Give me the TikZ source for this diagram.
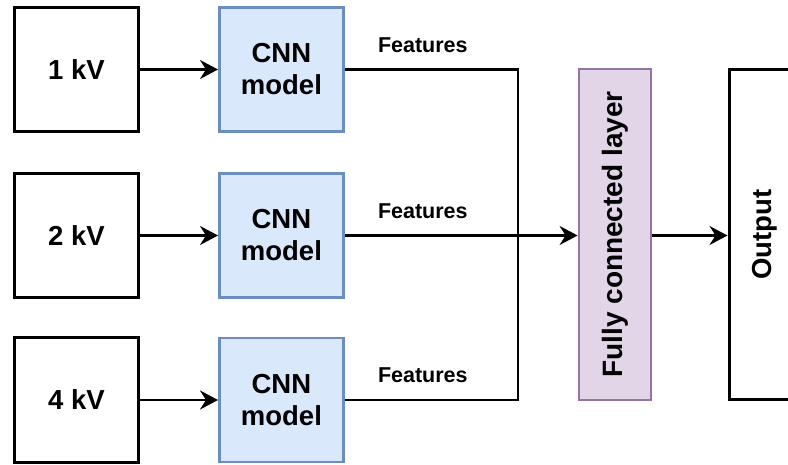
\documentclass[tikz,border=0pt]{standalone}
\usepackage{fontspec}
\setmainfont{Liberation Sans}
\usetikzlibrary{positioning, calc, arrows.meta}

\definecolor{cnnfill}{HTML}{DAE8FC}
\definecolor{cnnline}{HTML}{6C8EBF}
\definecolor{fcfill}{HTML}{E1D5E7}
\definecolor{fcline}{HTML}{9673A6}

\tikzset{
  inbox/.style={draw, line width=3pt, minimum width=124pt, minimum height=124pt,
    font=\fontsize{27.5}{32}\selectfont\bfseries, align=center},
  cnnbox/.style={inbox, draw=cnnline, fill=cnnfill, line width=2.8pt},
  fcbox/.style={draw=fcline, fill=fcfill, line width=2.8pt, minimum width=331pt,
    minimum height=72pt, rotate=90, font=\fontsize{28}{32}\selectfont\bfseries},
  outbox/.style={draw, line width=3pt, minimum width=329pt, minimum height=72pt,
    rotate=90, font=\fontsize{27.5}{32}\selectfont\bfseries},
  feat/.style={inner sep=0pt, anchor=south west, font=\fontsize{21.5}{24}\selectfont\bfseries},
  link/.style={line width=2.2pt},
  arr/.style={link, -{Stealth[length=18pt, width=19pt, inset=6pt]}}
}

\begin{document}
\begin{tikzpicture}[x=1pt, y=1pt, node distance=78pt]
  \useasboundingbox (0,0) rectangle (788,-465);

  \node[inbox] (in1) at (76.5,-69.5) {1 kV};
  \node[inbox] (in2) at (76.5,-235.5) {2 kV};
  \node[inbox] (in3) at (76.5,-400) {4 kV};

  \node[cnnbox, right=of in1] (cnn1) {CNN\\model};
  \node[cnnbox, right=of in2] (cnn2) {CNN\\model};
  \node[cnnbox, right=of in3] (cnn3) {CNN\\model};

  \node[fcbox] (fc) at (615,-234.5) {Fully connected layer};
  \node[outbox] (out) at (765,-234.5) {Output};

  \coordinate (junc) at (518,0);

  \draw[arr] (in1) -- (cnn1);
  \draw[arr] (in2) -- (cnn2);
  \draw[arr] (in3) -- (cnn3);

  \draw[link] (cnn1.east) -- (cnn1.east -| junc) -- (cnn3.east -| junc) -- (cnn3.east);
  \draw[arr] (cnn2.east) -- (cnn2.east -| fc.north);
  \draw[arr] (fc.south |- cnn2.east) -- (out.north |- cnn2.east);

  \node[feat, above right=17pt and 33pt of cnn1.east] (feat1) {Features};
  \node[feat, above right=17pt and 33pt of cnn2.east] (feat2) {Features};
  \node[feat, above right=17pt and 33pt of cnn3.east] (feat3) {Features};
\end{tikzpicture}
\end{document}
